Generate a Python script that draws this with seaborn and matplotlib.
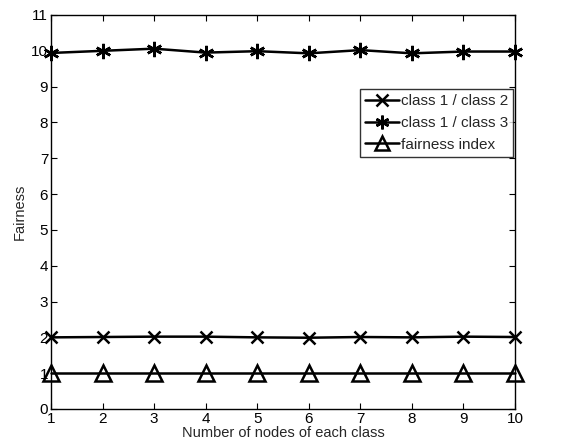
import matplotlib
matplotlib.use("Agg")
import matplotlib.pyplot as plt
import seaborn as sns
import pandas as pd

nodes = [1, 2, 3, 4, 5, 6, 7, 8, 9, 10]
class1_class2 = [2.00, 2.01, 2.02, 2.02, 2.00, 1.99, 2.01, 2.00, 2.02, 2.01]
class1_class3 = [9.94, 10.00, 10.06, 9.95, 9.99, 9.93, 10.02, 9.93, 9.98, 9.98]
fairness_index = [1.0, 1.0, 1.0, 1.0, 1.0, 1.0, 1.0, 1.0, 1.0, 1.0]
series_names = ["class 1 / class 2", "class 1 / class 3", "fairness index"]

sns.set_theme(style="white")
plt.rcParams["font.family"] = ["Liberation Sans", "DejaVu Sans"]

df = pd.DataFrame({
    "nodes": nodes * 3,
    "value": class1_class2 + class1_class3 + fairness_index,
    "series": [series_names[0]] * 10 + [series_names[1]] * 10 + [series_names[2]] * 10,
})

fig = plt.figure(figsize=(5.63, 4.47), dpi=100)
ax = fig.add_axes([51 / 563, 1 - 409 / 447, 464 / 563, 394 / 447])

markers = {series_names[0]: "x", series_names[1]: (6, 2, 0), series_names[2]: "^"}
sizes = {series_names[0]: 9, series_names[1]: 11, series_names[2]: 11}
for name in series_names:
    sub = df[df["series"] == name]
    sns.lineplot(data=sub, x="nodes", y="value", ax=ax, color="black", lw=1.8,
                 marker=markers[name], markersize=sizes[name], markeredgewidth=1.8,
                 markerfacecolor="none" if name == series_names[2] else "black",
                 markeredgecolor="black", label=name, clip_on=False)

ax.set_xlim(1, 10)
ax.set_ylim(0, 11)
ax.set_xticks(nodes)
ax.set_yticks(range(0, 12))
ax.tick_params(direction="in", length=4, width=0.8, colors="black", labelsize=11,
               top=True, right=True, bottom=True, left=True, pad=2)
for s in ax.spines.values():
    s.set_color("black")
    s.set_linewidth(1.0)
ax.set_xlabel("Number of nodes of each class", fontsize=10.5, labelpad=0)
ax.set_ylabel("Fairness", fontsize=10.5, labelpad=3)

leg = ax.legend(loc="upper right", bbox_to_anchor=(0.996, 0.812), frameon=True,
                fancybox=False, edgecolor="black", fontsize=11, handlelength=2.2,
                handletextpad=0.1, borderpad=0.35, labelspacing=0.5, borderaxespad=0,
                markerscale=0.9)
leg.get_frame().set_linewidth(1.0)

fig.savefig("out.png", dpi=100)
